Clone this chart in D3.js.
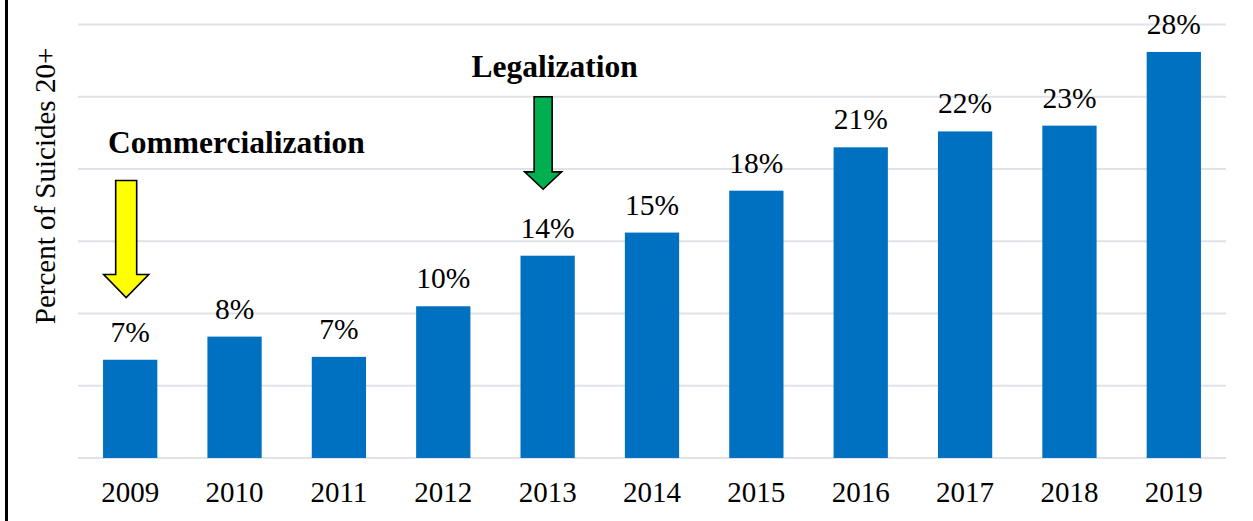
<!DOCTYPE html>
<html>
<head>
<meta charset="utf-8">
<script src="https://cdn.jsdelivr.net/npm/d3@7"></script>
<style>
  html, body { margin: 0; padding: 0; background: #fff; }
  svg { display: block; }
  svg text { font-family: "Times New Roman", "Liberation Serif", Tinos, serif; }
</style>
</head>
<body>
<svg id="chart" width="1253" height="521"></svg>
<script>
const years = ["2009", "2010", "2011", "2012", "2013", "2014", "2015", "2016", "2017", "2018", "2019"];
const percents = [6.8, 8.4, 7.0, 10.5, 14.0, 15.6, 18.5, 21.5, 22.6, 23.0, 28.1];
const percentLabels = ["7%", "8%", "7%", "10%", "14%", "15%", "18%", "21%", "22%", "23%", "28%"];
const gridTicks = [0, 5, 10, 15, 20, 25, 30];

// arrows: year they point at, label, fill, shaft top / head start / tip in percent units
const eventYears = ["2009", "2013"];
const eventLabels = ["Commercialization", "Legalization"];
const eventColors = ["#ffff00", "#00b050"];
const eventTop = [19.2, 25.0];
const eventHead = [12.7, 19.8];
const eventTip = [11.1, 18.6];
const eventLabelAt = [21.1, 26.35];

(function drawSuicideChart() {
  const svg = d3.select("#chart");
  const width = 1253;
  const height = 521;

  const x = d3.scaleBand()
    .domain(years)
    .range([78, 1226])
    .paddingInner(0.48)
    .paddingOuter(0.24);

  const y = d3.scaleLinear()
    .domain([0, 30])
    .range([458, 24.5]);

  // frame line on the left
  svg.append("line")
    .attr("x1", 6.5).attr("x2", 6.5)
    .attr("y1", 0).attr("y2", height)
    .attr("stroke", "#000")
    .attr("stroke-width", 3);

  // gridlines
  svg.append("g")
    .selectAll("line")
    .data(gridTicks)
    .enter()
    .append("line")
    .attr("x1", x.range()[0])
    .attr("x2", x.range()[1])
    .attr("y1", d => y(d))
    .attr("y2", d => y(d))
    .attr("stroke", "#dfe2e7")
    .attr("stroke-width", 1.8);

  const data = years.map((yr, i) => ({ year: yr, value: percents[i], label: percentLabels[i] }));

  svg.append("g")
    .selectAll("rect")
    .data(data)
    .enter()
    .append("rect")
    .attr("x", d => x(d.year))
    .attr("y", d => y(d.value))
    .attr("width", x.bandwidth())
    .attr("height", d => y(0) - y(d.value))
    .attr("fill", "#0070c0");

  svg.append("g")
    .selectAll("text")
    .data(data)
    .enter()
    .append("text")
    .attr("x", d => x(d.year) + x.bandwidth() / 2)
    .attr("y", d => y(d.value) - 18)
    .attr("text-anchor", "middle")
    .attr("font-size", "29.5px")
    .attr("fill", "#000")
    .text(d => d.label);

  // year labels
  svg.append("g")
    .selectAll("text")
    .data(years)
    .enter()
    .append("text")
    .attr("x", d => x(d) + x.bandwidth() / 2)
    .attr("y", y(0) + 44)
    .attr("text-anchor", "middle")
    .attr("font-size", "29px")
    .attr("fill", "#000")
    .text(d => d);

  // y axis title
  svg.append("text")
    .attr("transform", `translate(55,${186}) rotate(-90)`)
    .attr("text-anchor", "middle")
    .attr("font-size", "29px")
    .attr("fill", "#000")
    .text("Percent of Suicides 20+");

  // event arrows and labels
  const shaftWidths = [21, 18];
  const headWidths = [45, 37];
  const labelDx = [5, -49];
  const tipDx = [-4, -4.5];

  eventYears.forEach((yr, i) => {
    const cx = x(yr) + x.bandwidth() / 2 + tipDx[i];
    const sw = shaftWidths[i] / 2;
    const hw = headWidths[i] / 2;
    const top = y(eventTop[i]);
    const head = y(eventHead[i]);
    const tip = y(eventTip[i]);

    const pts = [
      [cx - sw, top], [cx + sw, top], [cx + sw, head], [cx + hw, head],
      [cx, tip], [cx - hw, head], [cx - sw, head]
    ];

    svg.append("path")
      .attr("d", d3.line()(pts) + "Z")
      .attr("fill", eventColors[i])
      .attr("stroke", "#000")
      .attr("stroke-width", 1.6)
      .attr("stroke-linejoin", "miter");

    svg.append("text")
      .attr("x", x(yr) + labelDx[i])
      .attr("y", y(eventLabelAt[i]))
      .attr("font-size", "31.5px")
      .attr("font-weight", "bold")
      .attr("fill", "#000")
      .text(eventLabels[i]);
  });
})();
</script>
</body>
</html>
